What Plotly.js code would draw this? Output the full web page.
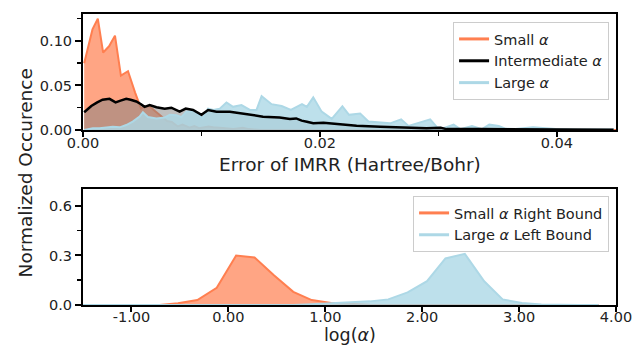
<!DOCTYPE html>
<html>
<head>
<meta charset="utf-8">
<script src="https://cdn.plot.ly/plotly-3.0.1.min.js"></script>
<style>html,body{margin:0;padding:0;background:#fff;}#chart{width:634px;height:348px;}</style>
</head>
<body>
<div id="chart"></div>
<script>
// ---- Top panel: error of IMRR (Hartree/Bohr) ----
var smallErrX = [0.0001,0.0008,0.00125,0.0017,0.0022,0.0027,0.0032,0.0038,0.0044,0.0049,0.0051,0.0056,0.0061,0.0066,0.0071,0.0075,0.0080,0.0084,0.0090,0.0094,0.0098,0.0106,0.0110,0.0118,0.0127,0.0135,0.0140,0.0150,0.0450];
var smallErrY = [0.075,0.113,0.125,0.087,0.094,0.106,0.061,0.066,0.042,0.024,0.026,0.027,0.021,0.015,0.010,0.009,0.004,0.006,0.0026,0.0045,0.002,0.004,0.003,0.0022,0.001,0.0026,0.001,0,0];

var interErrX = [0.0001,0.0007,0.0012,0.00165,0.00224,0.00275,0.00317,0.00365,0.00402,0.0045,0.0049,0.0052,0.00563,0.0062,0.0069,0.00746,0.00816,0.00867,0.00929,0.0100,0.01056,0.01127,0.0124,0.0138,0.0152,0.0166,0.01747,0.0180,0.01846,0.0189,0.01944,0.0203,0.0217,0.0231,0.0251,0.0268,0.0290,0.0302,0.0307,0.0335,0.0392,0.0448];
var interErrY = [0.020,0.027,0.031,0.034,0.035,0.031,0.033,0.035,0.034,0.032,0.029,0.026,0.028,0.0255,0.024,0.025,0.0206,0.024,0.0225,0.017,0.0225,0.0206,0.0206,0.018,0.015,0.014,0.0124,0.013,0.0105,0.0093,0.0075,0.008,0.0064,0.0048,0.0037,0.003,0.002,0.0025,0.001,0.001,0.0006,0.0004];

var largeErrX = [0.0001,0.00083,0.0014,0.00196,0.00252,0.0031,0.00365,0.0042,0.00478,0.00506,0.00548,0.0062,0.0069,0.00732,0.00789,0.0083,0.00873,0.00943,0.0101,0.01056,0.0110,0.01155,0.01211,0.01267,0.01338,0.01409,0.01465,0.01508,0.01592,0.01677,0.01755,0.01849,0.0189,0.01944,0.02015,0.0210,0.0219,0.02246,0.0234,0.0241,0.02508,0.02593,0.02686,0.02748,0.02833,0.02931,0.0299,0.03044,0.03129,0.03185,0.03284,0.03369,0.0343,0.0351,0.03566,0.0365,0.0380,0.0388,0.0399,0.0416,0.0448];
var largeErrY = [0.000,0.002,0.002,0.003,0.0037,0.003,0.0056,0.0095,0.015,0.020,0.0145,0.013,0.014,0.017,0.0165,0.0143,0.0206,0.0215,0.013,0.024,0.0225,0.024,0.031,0.026,0.028,0.0225,0.0225,0.038,0.029,0.027,0.0225,0.029,0.026,0.0367,0.0206,0.0125,0.0265,0.017,0.0185,0.0095,0.0085,0.0075,0.012,0.0045,0.008,0.012,0.003,0.002,0.006,0.001,0.0045,0.001,0.006,0.0045,0.0015,0.001,0.003,0.002,0.001,0.0005,0.0005];

// ---- Bottom panel: log(alpha) bounds ----
var logAlpha = [-1.50,-1.30,-1.11,-0.91,-0.71,-0.52,-0.32,-0.12,0.08,0.27,0.47,0.67,0.86,1.06,1.26,1.46,1.65,1.85,2.05,2.24,2.44,2.64,2.83,3.03,3.23,3.42,3.62,3.82];
var smallRight = [0,0,0,0,0,0.01,0.03,0.104,0.30,0.288,0.18,0.08,0.03,0.012,0.005,0.002,0,0,0,0,0,0,0,0,0,0,0,0];
var largeLeft  = [0,0,0,0,0,0,0,0,0,0,0,0,0.005,0.01,0.015,0.022,0.034,0.076,0.144,0.282,0.31,0.144,0.034,0.012,0.003,0,0,0];

var topTicks = [0, 0.02, 0.04];
var topTickText = ['0.00','0.02','0.04'];
var topYTicks = [0, 0.05, 0.10];
var topYTickText = ['0.00','0.05','0.10'];
var botXTicks = [-1, 0, 1, 2, 3, 4];
var botXTickText = ['-1.00','0.00','1.00','2.00','3.00','4.00'];
var botYTicks = [0, 0.3, 0.6];
var botYTickText = ['0.0','0.3','0.6'];

var labels = {
  small: 'Small <i>α</i>',
  inter: 'Intermediate <i>α</i>',
  large: 'Large <i>α</i>',
  smallR: 'Small <i>α</i> Right Bound',
  largeL: 'Large <i>α</i> Left Bound',
  xTop: 'Error of IMRR (Hartree/Bohr)',
  xBot: 'log(<i>α</i>)',
  y: 'Normalized Occurence'
};

var ORANGE = '#FF7F50', ORANGE_FILL = 'rgba(255,127,80,0.7)';
var BLUE = '#ADD8E6', BLUE_FILL = 'rgba(173,216,230,0.8)';
var GRAY_FILL = 'rgba(128,128,128,0.5)';

var traces = [
  {x: smallErrX, y: smallErrY, type: 'scatter', mode: 'lines', fill: 'tozeroy', fillcolor: ORANGE_FILL,
   line: {color: ORANGE, width: 2}, showlegend: false, xaxis: 'x', yaxis: 'y', hoverinfo: 'skip'},
  {x: interErrX, y: interErrY, type: 'scatter', mode: 'lines', fill: 'tozeroy', fillcolor: GRAY_FILL,
   line: {color: 'rgba(0,0,0,0)', width: 0}, showlegend: false, xaxis: 'x', yaxis: 'y', hoverinfo: 'skip'},
  {x: largeErrX, y: largeErrY, type: 'scatter', mode: 'lines', fill: 'tozeroy', fillcolor: BLUE_FILL,
   line: {color: BLUE, width: 2}, showlegend: false, xaxis: 'x', yaxis: 'y', hoverinfo: 'skip'},
  {x: interErrX, y: interErrY, type: 'scatter', mode: 'lines',
   line: {color: '#000', width: 2.5}, showlegend: false, xaxis: 'x', yaxis: 'y', hoverinfo: 'skip'},
  // legend handles (top)
  {x: [null], y: [null], type: 'scatter', mode: 'lines', name: labels.small, line: {color: ORANGE, width: 3}, xaxis: 'x', yaxis: 'y', legend: 'legend'},
  {x: [null], y: [null], type: 'scatter', mode: 'lines', name: labels.inter, line: {color: '#000', width: 3}, xaxis: 'x', yaxis: 'y', legend: 'legend'},
  {x: [null], y: [null], type: 'scatter', mode: 'lines', name: labels.large, line: {color: BLUE, width: 3}, xaxis: 'x', yaxis: 'y', legend: 'legend'},
  // bottom panel
  {x: logAlpha, y: smallRight, type: 'scatter', mode: 'lines', fill: 'tozeroy', fillcolor: ORANGE_FILL,
   line: {color: ORANGE, width: 2}, showlegend: false, xaxis: 'x2', yaxis: 'y2', hoverinfo: 'skip'},
  {x: logAlpha, y: largeLeft, type: 'scatter', mode: 'lines', fill: 'tozeroy', fillcolor: BLUE_FILL,
   line: {color: BLUE, width: 2}, showlegend: false, xaxis: 'x2', yaxis: 'y2', hoverinfo: 'skip'},
  {x: [null], y: [null], type: 'scatter', mode: 'lines', name: labels.smallR, line: {color: ORANGE, width: 3}, xaxis: 'x2', yaxis: 'y2', legend: 'legend2'},
  {x: [null], y: [null], type: 'scatter', mode: 'lines', name: labels.largeL, line: {color: BLUE, width: 3}, xaxis: 'x2', yaxis: 'y2', legend: 'legend2'}
];

var FONT = 'DejaVu Sans, Verdana, sans-serif';
var TXT = '#222';
function axisBase() {
  return {showline: true, mirror: true, linecolor: '#000', linewidth: 2, showgrid: false, zeroline: false,
          ticks: 'outside', ticklen: 6, tickwidth: 2, tickcolor: '#000',
          tickfont: {family: FONT, size: 14.5, color: TXT}, tickmode: 'array'};
}
var xa = Object.assign(axisBase(), {domain: [0, 1], anchor: 'y', range: [0, 0.045], tickvals: topTicks, ticktext: topTickText,
  ticklen: 5, ticklabelposition: 'outside', ticklabelstandoff: -6,
  minor: {tickmode: 'array', tickvals: [0.01, 0.03], ticklen: 4, tickwidth: 1.5, tickcolor: '#000', ticks: 'outside'}});
var ya = Object.assign(axisBase(), {domain: [0.6014, 1], anchor: 'x', range: [0, 0.1303], tickvals: topYTicks, ticktext: topYTickText,
  minor: {tickmode: 'array', tickvals: [0.025, 0.075, 0.125], ticklen: 4, tickwidth: 1.5, tickcolor: '#000', ticks: 'outside'}});
var xa2 = Object.assign(axisBase(), {domain: [0, 1], anchor: 'y2', range: [-1.5, 4.0], tickvals: botXTicks, ticktext: botXTickText,
  ticklen: 5, ticklabelposition: 'outside', ticklabelstandoff: -7});
var ya2 = Object.assign(axisBase(), {domain: [0, 0.397], anchor: 'x2', range: [0, 0.70], tickvals: botYTicks, ticktext: botYTickText,
  minor: {tickmode: 'array', tickvals: [0.15, 0.45], ticklen: 4, tickwidth: 1.5, tickcolor: '#000', ticks: 'outside'}});

var layout = {
  width: 634, height: 348,
  margin: {l: 83, r: 18, t: 14, b: 43},
  paper_bgcolor: '#fff', plot_bgcolor: '#fff',
  font: {family: FONT, color: TXT},
  xaxis: xa, yaxis: ya, xaxis2: xa2, yaxis2: ya2,
  legend: {x: 0.987, y: 0.9725, xanchor: 'right', yanchor: 'top', bgcolor: 'rgba(255,255,255,0.85)',
           bordercolor: '#ccc', borderwidth: 1, font: {family: FONT, size: 14.5, color: TXT}, itemwidth: 30},
  legend2: {x: 0.987, y: 0.3746, xanchor: 'right', yanchor: 'top', bgcolor: 'rgba(255,255,255,0.85)',
           bordercolor: '#ccc', borderwidth: 1, font: {family: FONT, size: 14.5, color: TXT}, itemwidth: 30},
  annotations: [
    {text: labels.y, xref: 'paper', yref: 'paper', x: -0.108, y: 0.4536, textangle: -90,
     showarrow: false, xanchor: 'center', yanchor: 'middle', font: {family: FONT, size: 18.5, color: TXT}},
    {text: labels.xTop, xref: 'paper', yref: 'paper', x: 0.5, y: 0.4811,
     showarrow: false, xanchor: 'center', yanchor: 'middle', font: {family: FONT, size: 18.5, color: TXT}},
    {text: labels.xBot, xref: 'paper', yref: 'paper', x: 0.5, y: -0.146,
     showarrow: false, xanchor: 'center', yanchor: 'bottom', font: {family: FONT, size: 17.5, color: TXT}}
  ],
  showlegend: true
};

Plotly.newPlot('chart', traces, layout, {displayModeBar: false, staticPlot: true});
</script>
</body>
</html>
